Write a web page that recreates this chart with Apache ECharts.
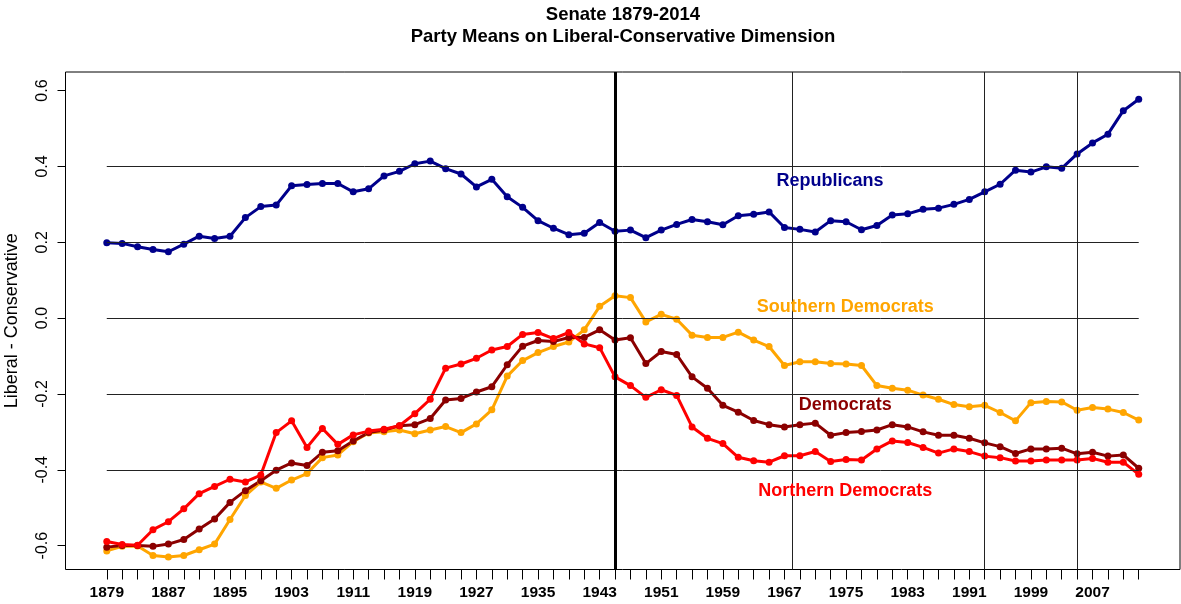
<!DOCTYPE html>
<html>
<head>
<meta charset="utf-8">
<title>Senate 1879-2014</title>
<script src="https://cdn.jsdelivr.net/npm/echarts@6/dist/echarts.min.js"></script>
<style>
  html, body { margin: 0; padding: 0; background: #fff; }
  #main { width: 1181px; height: 604px; }
</style>
</head>
<body>
<div id="main"></div>
<script>
// congress years (every 2 years)
var years = [1879, 1881, 1883, 1885, 1887, 1889, 1891, 1893, 1895, 1897,
  1899, 1901, 1903, 1905, 1907, 1909, 1911, 1913, 1915, 1917,
  1919, 1921, 1923, 1925, 1927, 1929, 1931, 1933, 1935, 1937,
  1939, 1941, 1943, 1945, 1947, 1949, 1951, 1953, 1955, 1957,
  1959, 1961, 1963, 1965, 1967, 1969, 1971, 1973, 1975, 1977,
  1979, 1981, 1983, 1985, 1987, 1989, 1991, 1993, 1995, 1997,
  1999, 2001, 2003, 2005, 2007, 2009, 2011, 2013];

var republicans = [0.199, 0.197, 0.188, 0.181, 0.175, 0.195, 0.216, 0.210, 0.216, 0.265,
  0.294, 0.298, 0.349, 0.352, 0.355, 0.355, 0.333, 0.341, 0.375, 0.387,
  0.407, 0.414, 0.394, 0.380, 0.346, 0.366, 0.320, 0.292, 0.257, 0.237,
  0.220, 0.224, 0.252, 0.229, 0.232, 0.212, 0.232, 0.247, 0.260, 0.254,
  0.246, 0.270, 0.274, 0.280, 0.239, 0.234, 0.227, 0.257, 0.254, 0.233,
  0.244, 0.272, 0.275, 0.287, 0.290, 0.300, 0.313, 0.333, 0.353, 0.390,
  0.385, 0.399, 0.395, 0.433, 0.462, 0.485, 0.547, 0.577];

var southernDems = [-0.614, -0.602, -0.601, -0.626, -0.630, -0.626, -0.611, -0.596, -0.531, -0.468,
  -0.432, -0.449, -0.427, -0.410, -0.368, -0.361, -0.326, -0.303, -0.300, -0.295,
  -0.305, -0.295, -0.286, -0.302, -0.279, -0.242, -0.153, -0.112, -0.091, -0.075,
  -0.063, -0.031, 0.031, 0.059, 0.054, -0.010, 0.010, -0.003, -0.045, -0.051,
  -0.051, -0.037, -0.058, -0.075, -0.125, -0.115, -0.115, -0.120, -0.121, -0.125,
  -0.178, -0.185, -0.190, -0.203, -0.214, -0.228, -0.234, -0.230, -0.249, -0.271,
  -0.223, -0.220, -0.221, -0.243, -0.236, -0.240, -0.249, -0.269];

var democrats = [-0.604, -0.600, -0.600, -0.602, -0.596, -0.584, -0.556, -0.530, -0.486, -0.455,
  -0.429, -0.401, -0.382, -0.389, -0.354, -0.350, -0.324, -0.302, -0.295, -0.284,
  -0.281, -0.265, -0.216, -0.212, -0.195, -0.181, -0.123, -0.074, -0.059, -0.062,
  -0.051, -0.051, -0.031, -0.058, -0.052, -0.120, -0.088, -0.096, -0.155, -0.185,
  -0.230, -0.248, -0.270, -0.281, -0.287, -0.281, -0.277, -0.309, -0.302, -0.299,
  -0.295, -0.281, -0.287, -0.300, -0.309, -0.309, -0.317, -0.329, -0.339, -0.357,
  -0.345, -0.345, -0.343, -0.358, -0.354, -0.364, -0.361, -0.396];

var northernDems = [-0.589, -0.597, -0.599, -0.558, -0.537, -0.503, -0.463, -0.444, -0.425, -0.432,
  -0.414, -0.302, -0.271, -0.341, -0.291, -0.333, -0.308, -0.298, -0.293, -0.284,
  -0.252, -0.214, -0.132, -0.121, -0.106, -0.084, -0.075, -0.043, -0.038, -0.054,
  -0.038, -0.068, -0.078, -0.155, -0.178, -0.209, -0.189, -0.204, -0.287, -0.317,
  -0.331, -0.367, -0.376, -0.380, -0.363, -0.363, -0.352, -0.378, -0.373, -0.374,
  -0.345, -0.324, -0.328, -0.341, -0.356, -0.345, -0.352, -0.364, -0.368, -0.377,
  -0.377, -0.374, -0.374, -0.374, -0.370, -0.380, -0.380, -0.412];

var xLabelYears = [1879, 1887, 1895, 1903, 1911, 1919, 1927, 1935, 1943, 1951, 1959, 1967, 1975, 1983, 1991, 1999, 2007];
var yTicks = [-0.6, -0.4, -0.2, 0, 0.2, 0.4, 0.6];
var hLines = [-0.4, -0.2, 0, 0.2, 0.4];
var vLines = [1968, 1993, 2005];
var breakYear = 1945;

var FONT = '"Liberation Sans", Arial, sans-serif';

function pairs(vals) {
  return years.map(function (y, i) { return [y, vals[i]]; });
}

function seriesOf(name, vals, color, labelPos) {
  return {
    name: name,
    type: 'line',
    data: pairs(vals),
    symbol: 'circle',
    symbolSize: 7,
    lineStyle: { color: color, width: 3 },
    itemStyle: { color: color },
    silent: true,
    markPoint: {
      symbol: 'circle',
      symbolSize: 0,
      silent: true,
      data: [{ coord: labelPos, value: name }],
      label: {
        show: true,
        position: 'inside',
        formatter: name,
        color: color,
        fontFamily: FONT,
        fontWeight: 'bold',
        fontSize: 18
      }
    }
  };
}

var myChart = echarts.init(document.getElementById('main'));

var series = [
  seriesOf('Republicans', republicans, '#00008B', [1972.9, 0.361]),
  seriesOf('Southern Democrats', southernDems, '#FFA500', [1974.9, 0.029]),
  seriesOf('Democrats', democrats, '#8B0000', [1974.9, -0.228]),
  seriesOf('Northern Democrats', northernDems, '#FF0000', [1974.9, -0.456])
];

// horizontal reference lines, only over the data range
series[0].markLine = {
  silent: true,
  symbol: 'none',
  label: { show: false },
  lineStyle: { color: '#222', width: 1, type: 'solid' },
  data: hLines.map(function (v) {
    return [{ coord: [years[0], v] }, { coord: [years[years.length - 1], v] }];
  })
};

// vertical lines (full height)
series[3].markLine = {
  silent: true,
  symbol: 'none',
  label: { show: false },
  lineStyle: { color: '#222', width: 1, type: 'solid' },
  data: [{ xAxis: breakYear, lineStyle: { color: '#000', width: 3 } }].concat(
    vLines.map(function (y) { return { xAxis: y }; })
  )
};

myChart.setOption({
  animation: false,
  backgroundColor: '#fff',
  title: {
    text: 'Senate 1879-2014\nParty Means on Liberal-Conservative Dimension',
    left: 618,
    top: -1,
    textAlign: 'center',
    textStyle: {
      fontFamily: FONT,
      fontWeight: 'bold',
      fontSize: 18.5,
      lineHeight: 22,
      color: '#000'
    }
  },
  grid: {
    left: 65.5,
    top: 72,
    right: 1,
    bottom: 34.5,
    outerBoundsMode: 'none',
    containLabel: false,
    show: true,
    borderColor: '#000',
    borderWidth: 1
  },
  xAxis: {
    type: 'value',
    min: 1873.64,
    max: 2018.36,
    splitLine: { show: false },
    axisLine: { show: false, onZero: false },
    axisTick: {
      show: true,
      length: 10,
      customValues: years,
      lineStyle: { color: '#000', width: 1 }
    },
    axisLabel: {
      customValues: xLabelYears,
      margin: 15,
      color: '#000',
      fontFamily: FONT,
      fontWeight: 'bold',
      fontSize: 15.5,
      formatter: function (v) { return String(v); }
    }
  },
  yAxis: {
    type: 'value',
    min: -0.663,
    max: 0.649,
    name: 'Liberal - Conservative',
    nameLocation: 'middle',
    nameRotate: 90,
    nameGap: 44,
    nameTextStyle: { fontFamily: FONT, fontSize: 18, color: '#000' },
    splitLine: { show: false },
    axisLine: { show: false, onZero: false },
    axisTick: {
      show: true,
      length: 8,
      customValues: yTicks,
      lineStyle: { color: '#000', width: 1 }
    },
    axisLabel: {
      customValues: yTicks,
      rotate: 90,
      margin: 15,
      color: '#000',
      fontFamily: FONT,
      fontSize: 16,
      formatter: function (v) { return v.toFixed(1); }
    }
  },
  series: series
});
</script>
</body>
</html>
